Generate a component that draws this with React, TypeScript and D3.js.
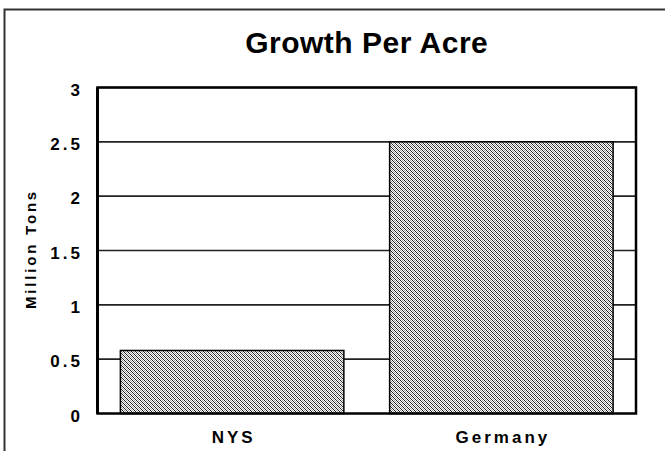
import React, { useEffect, useRef } from 'react';
import * as d3 from 'd3';

const categories = ['NYS', 'Germany'];
const values = [0.58, 2.5];
const yTicks = [0, 0.5, 1, 1.5, 2, 2.5, 3];
const tickLabels = ['0', '0.5', '1', '1.5', '2', '2.5', '3'];

const App = () => {
  const svgRef = useRef<SVGSVGElement>(null);

  useEffect(() => {
    const width = 665;
    const height = 451;
    const margin = { left: 97.5, right: 665 - 636, top: 87.5, bottom: 451 - 413.5 };

    const svg = d3.select(svgRef.current)
      .attr('width', width)
      .attr('height', height)
      .style('font-family', 'Arial, "Liberation Sans", sans-serif');

    svg.selectAll('*').remove();

    // dithered fill like the old excel pattern
    const defs = svg.append('defs');
    const pat = defs.append('pattern')
      .attr('id', 'dither')
      .attr('patternUnits', 'userSpaceOnUse')
      .attr('width', 4)
      .attr('height', 4);
    pat.append('rect').attr('width', 4).attr('height', 4).attr('fill', '#fff');
    [[0, 0], [1, 1], [2, 2], [3, 3]].forEach(([x, y]) => {
      pat.append('rect').attr('x', x).attr('y', y).attr('width', 1).attr('height', 1).attr('fill', '#222');
    });
    [[2, 0], [3, 1], [0, 2], [1, 3]].forEach(([x, y]) => {
      pat.append('rect').attr('x', x).attr('y', y).attr('width', 1).attr('height', 1).attr('fill', '#a0a0a0');
    });

    // outer chart border (cut off at right/bottom)
    svg.append('rect')
      .attr('x', 4.5)
      .attr('y', 9.5)
      .attr('width', 720)
      .attr('height', 500)
      .attr('fill', 'none')
      .attr('stroke', '#333')
      .attr('stroke-width', 2);

    const x = d3.scaleBand()
      .domain(categories)
      .range([margin.left, width - margin.right])
      .paddingInner(0.17)
      .paddingOuter(0.085);

    const y = d3.scaleLinear()
      .domain([0, 3])
      .range([height - margin.bottom, margin.top]);

    // title
    svg.append('text')
      .attr('x', (margin.left + width - margin.right) / 2)
      .attr('y', 53)
      .attr('text-anchor', 'middle')
      .style('font-size', '30px')
      .style('font-weight', 'bold')
      .style('letter-spacing', '0.5px')
      .text('Growth Per Acre');

    // gridlines
    svg.append('g')
      .selectAll('line')
      .data(yTicks.slice(1))
      .join('line')
      .attr('x1', margin.left)
      .attr('x2', width - margin.right)
      .attr('y1', d => y(d))
      .attr('y2', d => y(d))
      .attr('stroke', '#222')
      .attr('stroke-width', 1.6);

    // bars
    svg.append('g')
      .selectAll('rect')
      .data(values)
      .join('rect')
      .attr('x', (d, i) => x(categories[i])!)
      .attr('y', d => y(d))
      .attr('width', x.bandwidth())
      .attr('height', d => y(0) - y(d))
      .attr('fill', 'url(#dither)')
      .attr('stroke', '#000')
      .attr('stroke-width', 1.5);

    // plot frame
    svg.append('rect')
      .attr('x', margin.left)
      .attr('y', margin.top)
      .attr('width', width - margin.right - margin.left)
      .attr('height', y(0) - margin.top)
      .attr('fill', 'none')
      .attr('stroke', '#000')
      .attr('stroke-width', 2.5);
    svg.append('line')
      .attr('x1', margin.left)
      .attr('x2', margin.left)
      .attr('y1', margin.top)
      .attr('y2', y(0))
      .attr('stroke', '#000')
      .attr('stroke-width', 3);

    // y tick labels
    svg.append('g')
      .selectAll('text')
      .data(yTicks)
      .join('text')
      .attr('x', 83)
      .attr('y', d => y(d) + 8)
      .attr('text-anchor', 'end')
      .style('font-size', '17px')
      .style('font-weight', 'bold')
      .style('letter-spacing', '3px')
      .text((d, i) => tickLabels[i]);

    // x labels
    svg.append('g')
      .selectAll('text')
      .data(categories)
      .join('text')
      .attr('x', d => x(d)! + x.bandwidth() / 2 + 1.5)
      .attr('y', 443)
      .attr('text-anchor', 'middle')
      .style('font-size', '17px')
      .style('font-weight', 'bold')
      .style('letter-spacing', '3px')
      .text(d => d);

    // y axis title
    svg.append('text')
      .attr('transform', 'translate(35.5,249) rotate(-90)')
      .attr('text-anchor', 'middle')
      .style('font-size', '15px')
      .style('font-weight', 'bold')
      .style('letter-spacing', '2.8px')
      .text('Million Tons');
  }, []);

  return (
    <svg ref={svgRef} style={{ position: 'absolute', left: 0, top: 0, background: '#fff' }}></svg>
  );
};

export default App;
